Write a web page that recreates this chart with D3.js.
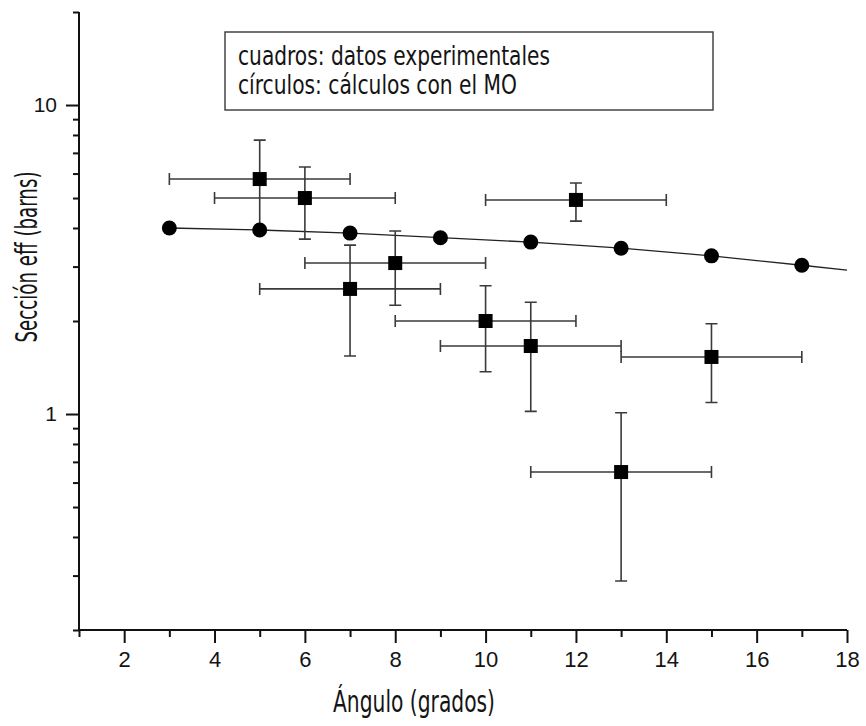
<!DOCTYPE html>
<html>
<head>
<meta charset="utf-8">
<script src="https://cdn.jsdelivr.net/npm/d3@7"></script>
<style>
  html, body { margin: 0; padding: 0; background: #fff; }
  svg { display: block; }
</style>
</head>
<body>
<script>
// Model calculation (circles) — angle in degrees, cross section in barns
const modelAngles = [3, 5, 7, 9, 11, 13, 15, 17];
const modelValues = [4.0, 3.94, 3.85, 3.72, 3.6, 3.44, 3.25, 3.03];
// Model curve as plotted (extends to the edge of the axis)
const curveAngles = [3, 5, 7, 9, 11, 13, 15, 17, 18];
const curveValues = [4.0, 3.94, 3.85, 3.72, 3.6, 3.44, 3.25, 3.03, 2.92];

// Experimental data (squares) with asymmetric errors
const expAngles  = [5, 6, 7, 8, 10, 11, 12, 13, 15];
const expValues  = [5.76, 5.0, 2.54, 3.08, 2.0, 1.66, 4.93, 0.649, 1.53];
const expLow     = [3.94, 3.68, 1.54, 2.25, 1.37, 1.02, 4.21, 0.288, 1.09];
const expHigh    = [7.7, 6.3, 3.52, 3.91, 2.6, 2.3, 5.59, 1.01, 1.96];
const expAngErr  = [2, 2, 2, 2, 2, 2, 2, 2, 2];

// Axis ticks
const xMajorTicks = [2, 4, 6, 8, 10, 12, 14, 16, 18];
const xMinorTicks = [1, 3, 5, 7, 9, 11, 13, 15, 17];
const yMajorTicks = [1, 10];
const yMinorTicks = [0.2, 0.3, 0.4, 0.5, 0.6, 0.7, 0.8, 0.9, 2, 3, 4, 5, 6, 7, 8, 9, 20];

// Texts
const xTitle = "Ángulo (grados)";
const yTitle = "Sección eff (barns)";
const legendLines = ["cuadros: datos experimentales", "círculos: cálculos con el MO"];

const W = 866, H = 726;
const svg = d3.select("body").append("svg").attr("width", W).attr("height", H);

const x = d3.scaleLinear().domain([1, 18]).range([79, 847]);
const y = d3.scaleLog().domain([0.2, 20]).range([630, 12]);

const narrow = "'Liberation Sans Narrow', 'DejaVu Sans Condensed', 'Liberation Sans', sans-serif";
const plain = "'Liberation Sans', Arial, sans-serif";

// ---- Axes ----
const xAxisMajor = d3.axisBottom(x).tickValues(xMajorTicks).tickSize(13).tickPadding(8)
  .tickFormat(d3.format("d"));
const xAxisMinor = d3.axisBottom(x).tickValues(xMinorTicks).tickSize(7).tickFormat("");
const yAxisMajor = d3.axisLeft(y).tickValues(yMajorTicks).tickSize(13).tickPadding(9)
  .tickFormat(d3.format("d"));
const yAxisMinor = d3.axisLeft(y).tickValues(yMinorTicks).tickSize(6).tickFormat("");

function styleAxis(g, size) {
  g.selectAll("path").attr("stroke", "#111").attr("stroke-width", 2);
  g.selectAll("line").attr("stroke", "#111").attr("stroke-width", 2);
  g.selectAll("text").attr("fill", "#141414").style("font-family", plain).style("font-size", size + "px");
}

svg.append("g").attr("transform", "translate(0,630)").call(xAxisMinor).call(styleAxis, 22)
  .select(".domain").remove();
svg.append("g").attr("transform", "translate(0,630)").call(xAxisMajor).call(styleAxis, 22)
  .call(g => g.select(".domain").attr("d", `M${x(1)},0H${x(18)}`));
svg.append("g").attr("transform", "translate(79,0)").call(yAxisMinor).call(styleAxis, 21)
  .select(".domain").remove();
svg.append("g").attr("transform", "translate(79,0)").call(yAxisMajor).call(styleAxis, 21)
  .call(g => g.select(".domain").attr("d", `M0,${y(20)}V${y(0.2)}`));

// ---- Axis titles ----
svg.append("text")
  .attr("x", 414).attr("y", 712)
  .attr("text-anchor", "middle")
  .attr("textLength", 162).attr("lengthAdjust", "spacingAndGlyphs")
  .style("font-family", narrow).style("font-size", "30px").attr("fill", "#141414")
  .text(xTitle);

svg.append("text")
  .attr("transform", "translate(37,257) rotate(-90)")
  .attr("text-anchor", "middle")
  .attr("textLength", 171).attr("lengthAdjust", "spacingAndGlyphs")
  .style("font-family", narrow).style("font-size", "30px").attr("fill", "#141414")
  .text(yTitle);

// ---- Model curve ----
const curve = curveAngles.map((a, i) => [a, curveValues[i]]);
svg.append("path")
  .datum(curve)
  .attr("fill", "none").attr("stroke", "#222").attr("stroke-width", 1.3)
  .attr("d", d3.line().x(d => x(d[0])).y(d => y(d[1])));

// ---- Experimental error bars ----
const exp = expAngles.map((a, i) => ({
  a, v: expValues[i], lo: expLow[i], hi: expHigh[i], ea: expAngErr[i]
}));
const cap = 6;
const eb = svg.append("g").attr("stroke", "#3a3a3a").attr("stroke-width", 1.6).attr("fill", "none");
exp.forEach(d => {
  const cx = x(d.a), cy = y(d.v);
  const x0 = x(d.a - d.ea), x1 = x(d.a + d.ea);
  const y0 = y(d.hi), y1 = y(d.lo);
  eb.append("path").attr("d",
    `M${x0},${cy}H${x1}` +
    `M${x0},${cy - cap}V${cy + cap}` +
    `M${x1},${cy - cap}V${cy + cap}` +
    `M${cx},${y0}V${y1}` +
    `M${cx - cap},${y0}H${cx + cap}` +
    `M${cx - cap},${y1}H${cx + cap}`);
});

// ---- Model circles ----
svg.append("g").selectAll("circle")
  .data(modelAngles.map((a, i) => [a, modelValues[i]]))
  .join("circle")
  .attr("cx", d => x(d[0])).attr("cy", d => y(d[1]))
  .attr("r", 7.5).attr("fill", "#000");

// ---- Experimental squares ----
const sq = 14;
svg.append("g").selectAll("rect")
  .data(exp)
  .join("rect")
  .attr("x", d => x(d.a) - sq / 2).attr("y", d => y(d.v) - sq / 2)
  .attr("width", sq).attr("height", sq).attr("fill", "#000");

// ---- Legend box ----
const lg = svg.append("g");
lg.append("rect")
  .attr("x", 225).attr("y", 32).attr("width", 488).attr("height", 78)
  .attr("fill", "#fff").attr("stroke", "#444").attr("stroke-width", 1.5);
const lineLens = [312, 279];
const lineBase = [65, 94];
legendLines.forEach((t, i) => {
  lg.append("text")
    .attr("x", 238).attr("y", lineBase[i])
    .attr("textLength", lineLens[i]).attr("lengthAdjust", "spacingAndGlyphs")
    .style("font-family", narrow).style("font-size", "27px").attr("fill", "#141414")
    .text(t);
});
</script>
</body>
</html>
